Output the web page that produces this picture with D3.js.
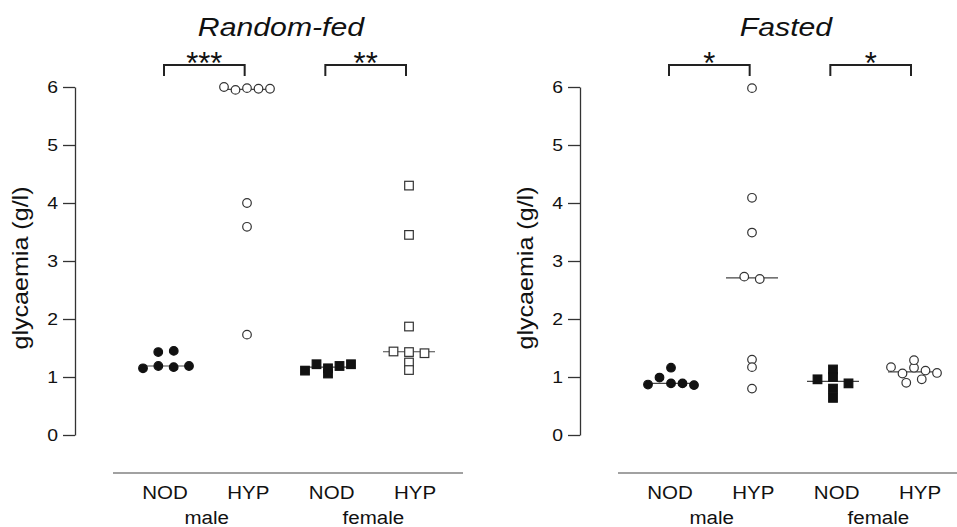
<!DOCTYPE html>
<html>
<head>
<meta charset="utf-8">
<script src="https://cdn.jsdelivr.net/npm/d3@7"></script>
<style>
  body { margin: 0; background: #fff; }
  svg { display: block; font-family: "Liberation Sans", Arial, sans-serif; }
</style>
</head>
<body>
<div id="chart"></div>
<script>
var W = 957, H = 527

// data (g/l)
var panelTitles = ["Random-fed", "Fasted"]
var strains = ["NOD", "HYP", "NOD", "HYP"]
var sexes = ["male", "female"]
var yTicks = [0, 1, 2, 3, 4, 5, 6]

var fedMaleNOD = [1.15, 1.43, 1.19, 1.45, 1.17, 1.19]
var fedMaleHYP = [6.00, 5.95, 5.98, 5.97, 5.97, 4.00, 3.59, 1.73]
var fedFemaleNOD = [1.11, 1.22, 1.15, 1.19, 1.22, 1.06]
var fedFemaleHYP = [4.30, 3.45, 1.87, 1.44, 1.43, 1.41, 1.25, 1.12]

var fastMaleNOD = [0.87, 0.99, 1.16, 0.89, 0.89, 0.86]
var fastMaleHYP = [5.98, 4.09, 3.49, 2.73, 2.69, 1.30, 1.17, 0.80]
var fastFemaleNOD = [1.13, 0.96, 1.00, 0.80, 0.64, 0.89]
var fastFemaleHYP = [1.17, 1.06, 0.90, 1.16, 1.29, 1.11, 0.96, 1.07]

var fedStars = ["***", "**"]
var fastStars = ["*", "*"]

var panels = [
  { title: panelTitles[0], ax: 75, groups: [fedMaleNOD, fedMaleHYP, fedFemaleNOD, fedFemaleHYP],
    shapes: ["circle", "circle", "square", "square"], stars: fedStars },
  { title: panelTitles[1], ax: 580, groups: [fastMaleNOD, fastMaleHYP, fastFemaleNOD, fastFemaleHYP],
    shapes: ["circle", "circle", "square", "circle"], stars: fastStars }
]
var filled = [true, false, true, false]

var stretchK = 1.14 // the figure's font runs wider than Arial

var svg = d3.select("#chart").append("svg")
  .attr("width", W).attr("height", H)

var y = d3.scaleLinear().domain([0, 6]).range([435, 87])

// dot plot layout: points close in value share a row, rows centred
function swarm(vals) {
  var order = vals.map(function(v, i) { return i }).sort(function(a, b) { return vals[b] - vals[a] })
  var rows = [], cur = null
  order.forEach(function(i) {
    var v = vals[i]
    if (cur && cur.length < 5 && vals[cur[cur.length - 1]] - v < 0.115 && vals[cur[0]] - v <= 0.15) cur.push(i)
    else { cur = [i]; rows.push(cur) }
  })
  var off = []
  rows.forEach(function(r) {
    r.sort(function(a, b) { return a - b })
    var n = r.length
    var sp = n > 1 ? Math.min(15.5, 46 / (n - 1)) : 0
    r.forEach(function(i, k) { off[i] = (k - (n - 1) / 2) * sp })
  })
  return off
}

function stretch(sel) {
  sel.each(function() {
    var L = this.getComputedTextLength()
    this.setAttribute("textLength", L * stretchK)
    this.setAttribute("lengthAdjust", "spacingAndGlyphs")
  })
}

panels.forEach(function(p) {
  var g = svg.append("g")
  var x = d3.scalePoint().domain(d3.range(4)).range([p.ax + 91, p.ax + 334])
  var xl = d3.scalePoint().domain(d3.range(4)).range([p.ax + 90, p.ax + 340])
  var xb = d3.scalePoint().domain(d3.range(4)).range([p.ax + 89, p.ax + 331])

  // title
  g.append("text")
    .attr("class", "wide")
    .attr("x", p.ax + 206).attr("y", 36)
    .attr("text-anchor", "middle")
    .style("font-size", "26.5px").style("font-style", "italic")
    .attr("fill", "#111")
    .text(p.title)

  // y axis
  var yAx = g.append("g")
    .attr("transform", "translate(" + p.ax + ",0)")
    .call(d3.axisLeft(y).tickValues(yTicks).tickFormat(d3.format("d"))
      .tickSize(12).tickSizeOuter(0).tickPadding(5))
  yAx.selectAll("path, line").attr("stroke", "#333").attr("stroke-width", 1.3)
  yAx.selectAll("text").attr("class", "wide")
    .style("font-size", "17px").style("font-family", "Liberation Sans, Arial, sans-serif").attr("fill", "#111")

  g.append("text")
    .attr("class", "wide")
    .attr("transform", "translate(" + (p.ax - 47) + ",268) rotate(-90)")
    .attr("text-anchor", "middle")
    .style("font-size", "22px")
    .attr("fill", "#111")
    .text("glycaemia (g/l)")

  // baseline under the groups
  g.append("line")
    .attr("x1", p.ax + 38).attr("x2", p.ax + 388)
    .attr("y1", 473).attr("y2", 473)
    .attr("stroke", "#444").attr("stroke-width", 1.2)

  g.selectAll(".strain").data(strains).enter().append("text")
    .attr("class", "wide")
    .attr("x", function(d, i) { return xl(i) }).attr("y", 499)
    .attr("text-anchor", "middle")
    .style("font-size", "18px").attr("fill", "#111")
    .text(function(d) { return d })

  g.selectAll(".sex").data(sexes).enter().append("text")
    .attr("class", "wide")
    .attr("x", function(d, i) { return (xl(2 * i) + xl(2 * i + 1)) / 2 }).attr("y", 524)
    .attr("text-anchor", "middle")
    .style("font-size", "18px").attr("fill", "#111")
    .text(function(d) { return d })

  // significance brackets
  p.stars.forEach(function(s, k) {
    var x1 = xb(2 * k), x2 = xb(2 * k + 1)
    g.append("path")
      .attr("d", "M" + x1 + ",76V65H" + x2 + "V76")
      .attr("fill", "none").attr("stroke", "#222").attr("stroke-width", 2)
    g.append("text")
      .attr("x", (x1 + x2) / 2).attr("y", 74)
      .attr("text-anchor", "middle")
      .style("font-size", "31px").attr("fill", "#111")
      .text(s)
  })

  // groups
  p.groups.forEach(function(vals, gi) {
    var cx = x(gi)
    var off = swarm(vals)
    var med = d3.median(vals)
    g.append("line")
      .attr("x1", cx - 26).attr("x2", cx + 26)
      .attr("y1", y(med)).attr("y2", y(med))
      .attr("stroke", "#444").attr("stroke-width", 1.2)

    var pts = vals.map(function(v, i) { return { v: v, dx: off[i] } })
    var fill = filled[gi] ? "#111" : "#fff"
    var stroke = filled[gi] ? "#111" : "#333"
    if (p.shapes[gi] === "circle") {
      g.selectAll(null).data(pts).enter().append("circle")
        .attr("cx", function(d) { return cx + d.dx })
        .attr("cy", function(d) { return y(d.v) })
        .attr("r", 4.3)
        .attr("fill", fill).attr("stroke", stroke).attr("stroke-width", 1.2)
    } else {
      var s = 8.6
      g.selectAll(null).data(pts).enter().append("rect")
        .attr("x", function(d) { return cx + d.dx - s / 2 })
        .attr("y", function(d) { return y(d.v) - s / 2 })
        .attr("width", s).attr("height", s)
        .attr("fill", fill).attr("stroke", stroke).attr("stroke-width", 1.2)
    }
  })
})

svg.selectAll("text.wide").call(stretch)
</script>
</body>
</html>
